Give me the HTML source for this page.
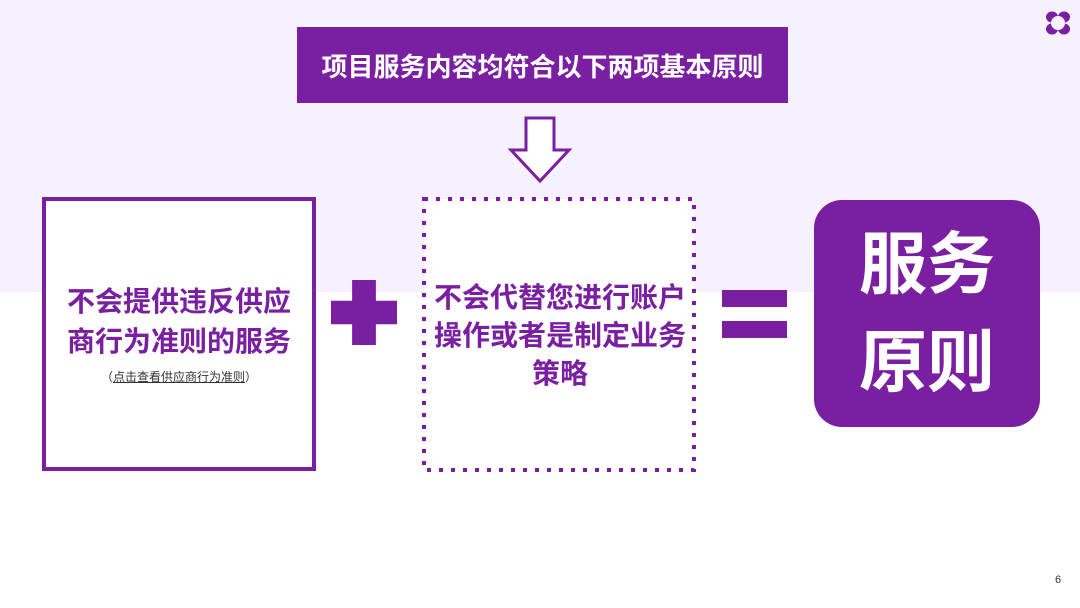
<!DOCTYPE html><html><head><meta charset="utf-8"><style>
body{margin:0;width:1080px;height:608px;position:relative;background:#fff;font-family:"Liberation Sans","Noto Sans CJK SC",sans-serif;overflow:hidden}
.a{position:absolute}
</style></head><body>
<div class="a" style="left:0;top:0;width:1080px;height:292px;background:#f6f1fc"></div>
<div class="a" style="left:297px;top:27px;width:491px;height:76px;background:#7b1fa2;color:#fff;font-size:26px;font-weight:bold;display:flex;align-items:center;justify-content:center">项目服务内容均符合以下两项基本原则</div>
<svg class="a" style="left:505px;top:114px" width="70" height="72"><path d="M21 4 H49 V36 H64 L35 67 L6 36 H21 Z" fill="#fff" stroke="#7b1fa2" stroke-width="3"/></svg>
<div class="a" style="left:42px;top:197px;width:266px;height:266px;border:4px solid #7b1fa2;background:#fff"></div>
<div class="a" style="left:46px;top:282px;width:266px;text-align:center;color:#7b1fa2;font-size:28px;font-weight:bold;line-height:40px">不会提供违反供应<br>商行为准则的服务</div>
<div class="a" style="left:46px;top:368px;width:266px;text-align:center;color:#333;font-size:12px">（<u>点击查看供应商行为准则</u>）</div>
<div class="a" style="left:331px;top:280px;width:66px;height:65px;background:#7b1fa2;clip-path:polygon(32% 0,68% 0,68% 32%,100% 32%,100% 68%,68% 68%,68% 100%,32% 100%,32% 68%,0 68%,0 32%,32% 32%)"></div>
<svg class="a" style="left:420px;top:195px" width="280" height="280"><rect x="4" y="4" width="270" height="271" fill="#fff" stroke="#7b1fa2" stroke-width="4" stroke-dasharray="4 8"/></svg>
<div class="a" style="left:422px;top:279px;width:276px;text-align:center;color:#7b1fa2;font-size:28px;font-weight:bold;line-height:38px">不会代替您进行账户<br>操作或者是制定业务<br>策略</div>
<div class="a" style="left:722px;top:290px;width:65px;height:17px;background:#7b1fa2"></div>
<div class="a" style="left:722px;top:321px;width:65px;height:17px;background:#7b1fa2"></div>
<div class="a" style="left:814px;top:200px;width:226px;height:227px;border-radius:28px;background:#7b1fa2;color:#fff;font-size:68px;font-weight:bold;text-align:center;line-height:98px;padding-top:16px;box-sizing:border-box">服务<br>原则</div>
<svg class="a" style="left:1044px;top:9px" width="28" height="28"><g fill="#7b1fa2"><ellipse cx="8" cy="8" rx="6" ry="5.5"/><ellipse cx="20" cy="8" rx="6" ry="5.5"/><ellipse cx="8" cy="20" rx="6" ry="5.5"/><ellipse cx="20" cy="20" rx="6" ry="5.5"/></g><circle cx="14" cy="14" r="7" fill="#f6f1fc"/></svg>
<div class="a" style="left:1055px;top:574px;font-size:11px;color:#333">6</div>
</body></html>
